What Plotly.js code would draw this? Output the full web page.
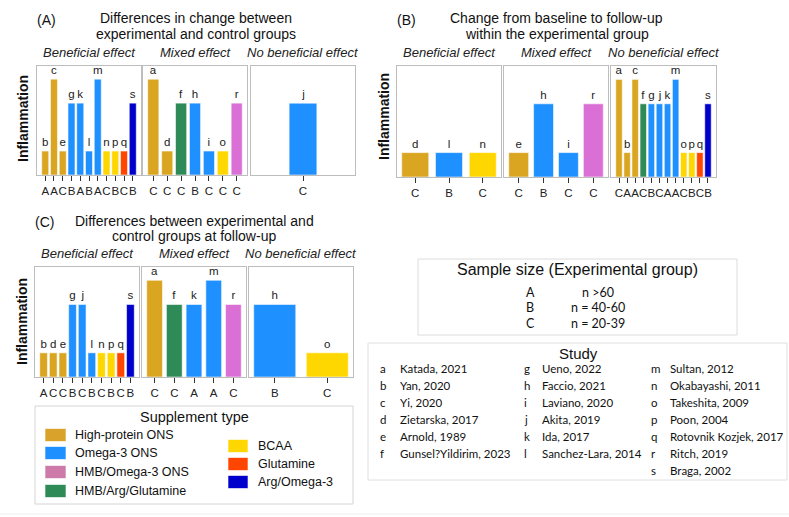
<!DOCTYPE html>
<html><head><meta charset="utf-8">
<script src="https://cdn.plot.ly/plotly-3.0.1.min.js"></script>
<style>html,body{margin:0;padding:0;background:#fff}#chart{width:789px;height:517px}</style>
</head><body><div id="chart"></div>
<script>
// ---------------- DATA ----------------
const studyLetters = ['a','b','c','d','e','f','g','h','i','j','k','l','m','n','o','p','q','r','s'];
const studyNames = ['Katada, 2021','Yan, 2020','Yi, 2020','Zietarska, 2017','Arnold, 1989','Gunsel?Yildirim, 2023',
  'Ueno, 2022','Faccio, 2021','Laviano, 2020','Akita, 2019','Ida, 2017','Sanchez-Lara, 2014',
  'Sultan, 2012','Okabayashi, 2011','Takeshita, 2009','Poon, 2004','Rotovnik Kozjek, 2017','Ritch, 2019','Braga, 2002'];
const studySupplement = ['High-protein ONS','High-protein ONS','High-protein ONS','High-protein ONS','High-protein ONS',
  'HMB/Arg/Glutamine','Omega-3 ONS','Omega-3 ONS','Omega-3 ONS','Omega-3 ONS','Omega-3 ONS','Omega-3 ONS','Omega-3 ONS',
  'BCAA','BCAA','BCAA','Glutamine','HMB/Omega-3 ONS','Arg/Omega-3'];
const studySampleSize = ['C','A','A','C','C','C','B','B','C','C','A','B','A','C','C','B','C','C','B'];

const supplementTypes = ['High-protein ONS','Omega-3 ONS','HMB/Omega-3 ONS','HMB/Arg/Glutamine','BCAA','Glutamine','Arg/Omega-3'];
const supplementColors = ['#DAA520','#1E90FF','#DA70D6','#2E8B57','#FFD700','#FF4500','#0000CD'];
const legendSwatchColors = ['#D9A22A','#1E90FF','#CD7AAA','#2E8B57','#FFD700','#FF4500','#0000CD'];

const sampleSizeGroups = ['A','B','C'];
const sampleSizeRanges = ['n >60','n = 40-60','n = 20-39'];

const effectCategories = ['Beneficial effect','Mixed effect','No beneficial effect'];

// Panel A: differences in change between experimental and control groups
const A_beneficial_studies = ['b','c','e','g','k','l','m','n','p','q','s'];
const A_beneficial_values  = [1,4,1,3,3,1,4,1,1,1,3];
const A_mixed_studies = ['a','d','f','h','i','o','r'];
const A_mixed_values  = [4,1,3,3,1,1,3];
const A_none_studies = ['j'];
const A_none_values  = [3];

// Panel B: change from baseline to follow-up within the experimental group
const B_beneficial_studies = ['d','l','n'];
const B_beneficial_values  = [1,1,1];
const B_mixed_studies = ['e','h','i','r'];
const B_mixed_values  = [1,3,1,3];
const B_none_studies = ['a','b','c','f','g','j','k','m','o','p','q','s'];
const B_none_values  = [4,1,4,3,3,3,3,4,1,1,1,3];

// Panel C: differences between experimental and control groups at follow-up
const C_beneficial_studies = ['b','d','e','g','j','l','n','p','q','s'];
const C_beneficial_values  = [1,1,1,3,3,1,1,1,1,3];
const C_mixed_studies = ['a','f','k','m','r'];
const C_mixed_values  = [4,3,3,4,3];
const C_none_studies = ['h','o'];
const C_none_values  = [3,1];

// ---------------- LAYOUT HELPERS ----------------
const W = 789, H = 517;
const PX = v => v / W;
const PY = v => 1 - v / H;
const FONT = 'Liberation Sans, Arial, sans-serif';
const BODY = 'Lato, Liberation Sans, sans-serif';

const colorOf = s => supplementColors[supplementTypes.indexOf(studySupplement[studyLetters.indexOf(s)])];
const sizeOf = s => studySampleSize[studyLetters.indexOf(s)];

const subplots = [
  {st:A_beneficial_studies, v:A_beneficial_values, x:[37,141], y:[66,175]},
  {st:A_mixed_studies,      v:A_mixed_values,      x:[143,247], y:[66,175]},
  {st:A_none_studies,       v:A_none_values,       x:[251,355], y:[66,175]},
  {st:B_beneficial_studies, v:B_beneficial_values, x:[397,501], y:[66,177]},
  {st:B_mixed_studies,      v:B_mixed_values,      x:[504,608], y:[66,177]},
  {st:B_none_studies,       v:B_none_values,       x:[611,716], y:[66,177]},
  {st:C_beneficial_studies, v:C_beneficial_values, x:[35,139], y:[267,377]},
  {st:C_mixed_studies,      v:C_mixed_values,      x:[142,246], y:[267,377]},
  {st:C_none_studies,       v:C_none_values,       x:[249,353], y:[267,377]},
];

const traces = [];
const layout = {
  width: W, height: H, margin: {l:0, r:0, t:0, b:0},
  paper_bgcolor: '#fff', plot_bgcolor: '#fff',
  showlegend: false, bargap: 0.2,
  font: {family: FONT, color: '#222'},
  annotations: [], shapes: []
};

subplots.forEach((sp, i) => {
  const k = i + 1;
  const xa = k === 1 ? 'x' : 'x' + k;
  const ya = k === 1 ? 'y' : 'y' + k;
  traces.push({
    type: 'bar', x: sp.st, y: sp.v, xaxis: xa, yaxis: ya,
    marker: {color: sp.st.map(colorOf), line: {color: 'rgba(255,255,255,0.55)', width: 1}},
    text: sp.st, textposition: 'outside', constraintext: 'none', cliponaxis: false,
    textfont: {family: FONT, size: 11.5, color: '#222'},
    hoverinfo: 'skip'
  });
  const n = sp.st.length;
  const pad = 0.05 * (n - 0.2);
  const rng = n === 1 ? [-1.5, 1.5] : [-0.4 - pad, n - 0.6 + pad];
  layout[k === 1 ? 'xaxis' : 'xaxis' + k] = {
    domain: [PX(sp.x[0]), PX(sp.x[1])], anchor: ya, type: 'category',
    range: rng, tickvals: sp.st, ticktext: sp.st.map(sizeOf), tickangle: 0,
    ticks: 'outside', ticklen: 5, tickwidth: 1, tickcolor: '#333',
    tickfont: {family: FONT, size: 11.5, color: '#222'},
    showline: true, mirror: true, linecolor: '#bdbdbd', linewidth: 1,
    showgrid: false, zeroline: false, fixedrange: true
  };
  layout[k === 1 ? 'yaxis' : 'yaxis' + k] = {
    domain: [PY(sp.y[1]), PY(sp.y[0])], anchor: xa,
    range: [0, 4.55], showticklabels: false, ticks: '',
    showline: true, mirror: true, linecolor: '#bdbdbd', linewidth: 1,
    showgrid: false, zeroline: false, fixedrange: true
  };
  // effect subtitle
  const subY = i < 6 ? 53 : 254;
  layout.annotations.push({
    xref: 'paper', yref: 'paper', x: PX((sp.x[0] + sp.x[1]) / 2), y: PY(subY),
    text: '<i>' + effectCategories[i % 3] + '</i>', showarrow: false,
    xanchor: 'center', yanchor: 'middle', font: {family: FONT, size: 13, color: '#222'}
  });
});

function txt(x, y, text, opts) {
  layout.annotations.push(Object.assign({
    xref: 'paper', yref: 'paper', x: PX(x), y: PY(y), text: text, showarrow: false,
    xanchor: 'center', yanchor: 'middle', font: {family: FONT, size: 14, color: '#111'}
  }, opts || {}));
}

// Panel titles
txt(46.5, 20, '(A)');
txt(196, 18.5, 'Differences in change between');
txt(196, 34, 'experimental and control groups');
txt(406.5, 20, '(B)');
txt(556.5, 18.5, 'Change from baseline to follow-up');
txt(556.5, 34.5, 'within the experimental group');
txt(44.5, 222, '(C)');
txt(194, 220.5, 'Differences between experimental and');
txt(194, 236.5, 'control groups at follow-up');

// y-axis titles
const yTitle = {textangle: -90, font: {family: FONT, size: 14, color: '#111', weight: 'bold'}};
txt(23, 119, '<b>Inflammation</b>', yTitle);
txt(384, 117, '<b>Inflammation</b>', yTitle);
txt(22, 322, '<b>Inflammation</b>', yTitle);

// Supplement type legend
layout.shapes.push({type:'rect', xref:'paper', yref:'paper', x0:PX(35), x1:PX(353), y0:PY(504), y1:PY(406),
  line:{color:'#d4d4d4', width:1}, fillcolor:'rgba(0,0,0,0)'});
txt(194, 417, 'Supplement type', {font:{family:FONT, size:14.5, color:'#111'}});
const legendLeftRows = [435, 453, 472, 491];
const legendRightRows = [446, 464, 482];
supplementTypes.forEach((s, i) => {
  const left = i < 4;
  const yy = left ? legendLeftRows[i] : legendRightRows[i - 4];
  const x0 = left ? 45 : 228, x1 = left ? 66 : 248;
  layout.shapes.push({type:'rect', xref:'paper', yref:'paper', x0:PX(x0), x1:PX(x1), y0:PY(yy + 6.5), y1:PY(yy - 6.5),
    fillcolor: legendSwatchColors[i], line:{color:'rgba(255,255,255,0.6)', width:1}});
  txt(left ? 73 : 256, yy, s, {xanchor:'left', font:{family:FONT, size:12.5, color:'#111'}});
});

// Sample size box
layout.shapes.push({type:'rect', xref:'paper', yref:'paper', x0:PX(418), x1:PX(737), y0:PY(335), y1:PY(259),
  line:{color:'#dcdcdc', width:1}, fillcolor:'rgba(0,0,0,0)'});
txt(577, 269, 'Sample size (Experimental group)', {font:{family:FONT, size:16, color:'#111'}});
const sampleRows = [292, 307.5, 323];
sampleSizeGroups.forEach((g, i) => {
  txt(530, sampleRows[i], g, {font:{family:BODY, size:12.5, color:'#111'}});
  txt(598, sampleRows[i], sampleSizeRanges[i], {font:{family:BODY, size:12.5, color:'#111'}});
});

// Study box
layout.shapes.push({type:'rect', xref:'paper', yref:'paper', x0:PX(368), x1:PX(787), y0:PY(480), y1:PY(343),
  line:{color:'#e0e0e0', width:1}, fillcolor:'rgba(0,0,0,0)'});
txt(578, 353, 'Study', {font:{family:FONT, size:15, color:'#111'}});
const studyColLetterX = [378, 522, 649];
const studyColNameX = [398, 540, 668];
const studyColSplit = [0, 6, 12, 19];
studyLetters.forEach((l, i) => {
  const col = i < 6 ? 0 : (i < 12 ? 1 : 2);
  const row = i - studyColSplit[col];
  const yy = 368 + row * 17;
  txt(studyColLetterX[col], yy, l, {xanchor:'left', font:{family:BODY, size:11.5, color:'#111'}});
  txt(studyColNameX[col], yy, studyNames[i], {xanchor:'left', font:{family:BODY, size:11.5, color:'#111'}});
});

// faint bottom frame line
layout.shapes.push({type:'line', xref:'paper', yref:'paper', x0:0, x1:1, y0:PY(514), y1:PY(514),
  line:{color:'#eeeeee', width:1}});

Plotly.newPlot('chart', traces, layout, {staticPlot: true, displayModeBar: false});
</script>
</body></html>
